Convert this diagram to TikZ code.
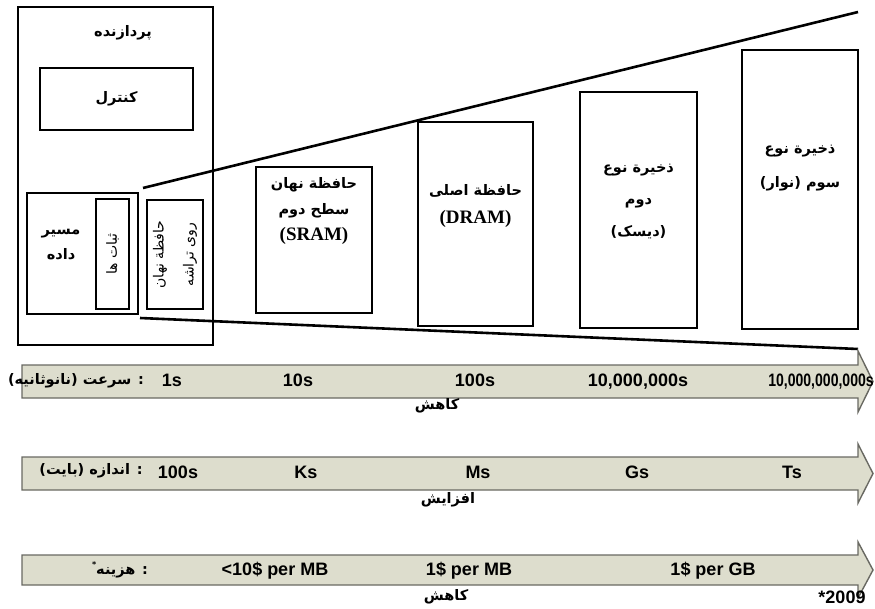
\documentclass[tikz,border=0pt]{standalone}
\usepackage{fontspec}
\setmainfont{Liberation Sans}
\newfontfamily\farsi[Script=Arabic]{DejaVu Sans}
\newfontfamily\latinserif{Liberation Serif}
\TeXXeTstate=1
\usetikzlibrary{positioning}
\definecolor{bandfill}{RGB}{221,221,205}
\definecolor{bandline}{RGB}{105,105,98}
\newcommand{\fa}[1]{{\farsi\bfseries\beginR #1\endR}}
\newcommand{\faregular}[1]{{\farsi\beginR #1\endR}}

\begin{document}
\begin{tikzpicture}[
        x=1pt, y=-1pt,
        box/.style={draw, line width=2.4pt, inner sep=0pt},
        fatxt/.style={font=\fontsize{14.5}{25}\selectfont, align=center, inner sep=0pt},
        val/.style={font=\fontsize{18}{20}\selectfont\bfseries, inner sep=0pt,
                    text height=13pt, text depth=4pt},
        band/.style={fill=bandfill, draw=bandline, line width=1.4pt},
        fan/.style={line width=2.6pt},
    ]
    \useasboundingbox (0,0) rectangle (875,609);

    % processor and its parts
    \node[box, minimum width=195pt, minimum height=338pt] (cpu) at (115.5,176) {};
    \node[box, minimum width=153pt, minimum height=62pt] (ctrl) at (116.5,99) {};
    \node[box, minimum width=111pt, minimum height=121pt] (dpath) at (82.5,253.5) {};
    \node[box, minimum width=33pt, minimum height=110pt] (regs) at (112.5,254) {};
    \node[box, minimum width=56pt, minimum height=109pt] (onchip) at (175,254.5) {};

    \node[fatxt] (cpulbl) at (123,33) {\fa{پردازنده}};
    \node[fatxt] (ctrllbl) at (ctrl) {\fa{کنترل}};
    \node[fatxt] (dpathlbl) at (61,245) {\fa{مسیر}\\\fa{داده}};
    \node[fatxt, rotate=90, font=\fontsize{14}{30}\selectfont] (regslbl) at (regs) {\faregular{ثبات ها}};
    \node[fatxt, rotate=90, font=\fontsize{14}{30}\selectfont] (onchiplbl) at (onchip)
        {\faregular{حافظة نهان}\\\faregular{روی تراشه}};

    % levels of the hierarchy
    \node[box, minimum width=116pt, minimum height=146pt] (sram) at (314,240) {};
    \node[box, minimum width=115pt, minimum height=204pt] (dram) at (475.5,224) {};
    \node[box, minimum width=117pt, minimum height=236pt] (disk) at (638.5,210) {};
    \node[box, minimum width=116pt, minimum height=279pt] (tape) at (800,189.5) {};

    \node[fatxt, font=\fontsize{14.5}{26}\selectfont, below=11pt of sram.north] (sramlbl)
        {\fa{حافظة نهان}\\\fa{سطح دوم}\\{\latinserif\bfseries\fontsize{19}{20}\selectfont (SRAM)}};
    \node[fatxt, font=\fontsize{14.5}{28}\selectfont, below=63pt of dram.north] (dramlbl)
        {\fa{حافظة اصلی}\\{\latinserif\bfseries\fontsize{19}{20}\selectfont (DRAM)}};
    \node[fatxt, font=\fontsize{14.5}{32}\selectfont, below=73pt of disk.north] (disklbl)
        {\fa{ذخیرة نوع}\\\fa{دوم}\\\fa{(دیسک)}};
    \node[fatxt, font=\fontsize{14.5}{34}\selectfont, below=96pt of tape.north] (tapelbl)
        {\fa{ذخیرة نوع}\\\fa{سوم (نوار)}};

    % fan-out lines
    \coordinate (fanA) at (143,188);
    \coordinate (fanB) at (140,318);
    \coordinate (fanC) at (858,12);
    \coordinate (fanD) at (858,349);
    \draw[fan] (fanA) -- (fanC);
    \draw[fan] (fanB) -- (fanD);

    % three bands
    \foreach \t/\b/\ht/\hb in {365/398/351/412, 457/490/444/503, 555/585/542/598}
        \draw[band] (22,\t) -- (858,\t) -- (858,\ht) -- (873,{(\t+\b)/2})
            -- (858,\hb) -- (858,\b) -- (22,\b) -- cycle;

    % speed
    \node[fatxt] (speedlbl) at (76,381) {\fa{: سرعت (نانوثانیه)}};
    \node[val] (sp1) at (172,382) {1s};
    \node[val] (sp2) at (298,382) {10s};
    \node[val] (sp3) at (475,382) {100s};
    \node[val] (sp4) at (638,382) {10,000,000s};
    \node[val] (sp5) at (821,382) {\scalebox{0.78}[1]{10,000,000,000s}};
    \node[fatxt] (speeddir) at (437,406) {\fa{کاهش}};

    % size
    \node[fatxt] (sizelbl) at (91,471) {\fa{: اندازه (بایت)}};
    \node[val] (sz1) at (178,474) {100s};
    \node[val] (sz2) at (306,474) {Ks};
    \node[val] (sz3) at (478,474) {Ms};
    \node[val] (sz4) at (637,474) {Gs};
    \node[val] (sz5) at (792,474) {Ts};
    \node[fatxt] (sizedir) at (448,500) {\fa{افزایش}};

    % cost
    \node[fatxt] (costlbl) at (120,570) {\fa{: هزینه\raisebox{7pt}{\footnotesize *}}};
    \node[val] (co1) at (275,571) {<10\$ per MB};
    \node[val] (co2) at (469,571) {1\$ per MB};
    \node[val] (co3) at (713,571) {1\$ per GB};
    \node[fatxt] (costdir) at (446,597) {\fa{کاهش}};
    \node[val] (year) at (842,599) {*2009};
\end{tikzpicture}
\end{document}
